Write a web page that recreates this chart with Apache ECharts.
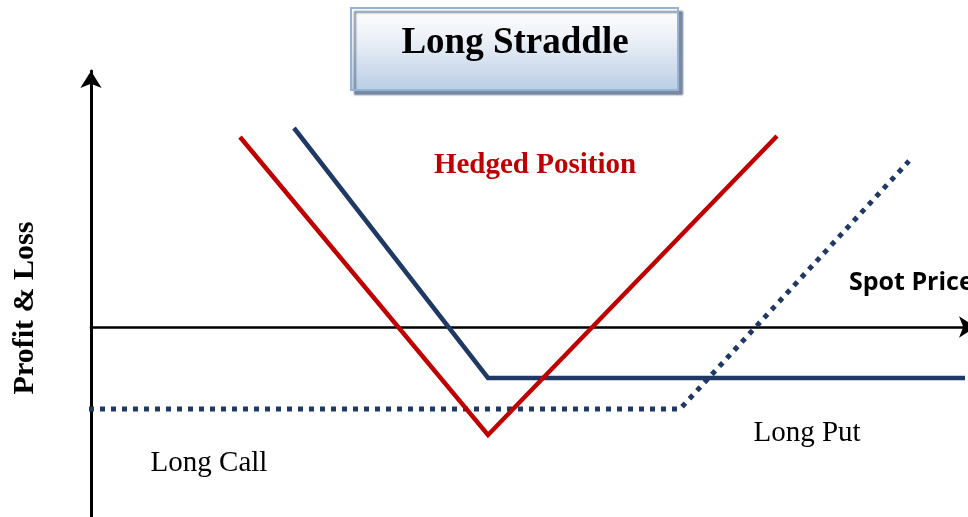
<!DOCTYPE html>
<html>
<head>
<meta charset="utf-8">
<title>Long Straddle</title>
<script src="https://cdn.jsdelivr.net/npm/echarts@6/dist/echarts.min.js"></script>
<style>
  html, body { margin: 0; padding: 0; background: #fff; }
  #chart { width: 968px; height: 517px; }
</style>
</head>
<body>
<div id="chart"></div>
<script>
// payoff lines, [spot price, profit & loss]
const hedgedPosition = [[14.9, 19.0], [39.7, -10.8], [68.6, 19.1]]
const longPut = [[20.3, 19.9], [39.7, -5.1], [87.4, -5.1]]
const longCall = [[-0.2, -8.2], [58.9, -8.2], [81.8, 16.6]]

const titleText = 'Long Straddle'
const xName = 'Spot Price'
const yName = 'Profit & Loss'
const labels = ['Hedged Position', 'Long Put', 'Long Call']

const chart = echarts.init(document.getElementById('chart'))

const serif = '"Liberation Serif", "DejaVu Serif", serif'

chart.setOption({
  animation: false,
  // x axis runs a bit past the right edge, arrow gets cut like in the source picture
  grid: {
    left: 91, top: 71, width: 885, height: 446,
    containLabel: false, outerBoundsMode: 'none'
  },
  xAxis: {
    type: 'value', min: 0, max: 88.5,
    axisLine: {
      onZero: true,
      symbol: ['none', 'arrow'],
      symbolSize: [16, 17],
      lineStyle: { color: '#000', width: 2.5 }
    },
    axisTick: { show: false },
    axisLabel: { show: false },
    splitLine: { show: false }
  },
  yAxis: {
    type: 'value', min: -19, max: 25.6,
    axisLine: {
      onZero: false,
      symbol: ['none', 'arrow'],
      symbolSize: [16, 17],
      lineStyle: { color: '#000', width: 3 }
    },
    axisTick: { show: false },
    axisLabel: { show: false },
    splitLine: { show: false }
  },
  series: [
    {
      name: labels[0], type: 'line', data: hedgedPosition,
      showSymbol: false, clip: false, z: 3,
      lineStyle: { color: '#c00000', width: 4.5, join: 'miter' }
    },
    {
      name: labels[1], type: 'line', data: longPut,
      showSymbol: false, clip: false, z: 2,
      lineStyle: { color: '#1f3864', width: 4.5, join: 'miter' }
    },
    {
      name: labels[2], type: 'line', data: longCall,
      showSymbol: false, clip: false, z: 2,
      lineStyle: { color: '#1f3864', width: 5, type: [5, 6], cap: 'butt' }
    }
  ],
  graphic: [
    // title box
    {
      type: 'rect', z: 10,
      shape: { x: 351, y: 8, width: 327, height: 82 },
      style: {
        fill: new echarts.graphic.LinearGradient(0, 0, 0, 1, [
          { offset: 0, color: '#ffffff' },
          { offset: 0.35, color: '#eef2f8' },
          { offset: 1, color: '#b9cde5' }
        ]),
        stroke: '#95b3d7', lineWidth: 2,
        shadowColor: 'rgba(80, 100, 130, 0.75)',
        shadowOffsetX: 4, shadowOffsetY: 4, shadowBlur: 2
      }
    },
    {
      type: 'text', z: 11, x: 515, y: 43,
      style: {
        text: titleText, font: 'bold 37px ' + serif, fill: '#000',
        textAlign: 'center', textVerticalAlign: 'middle'
      }
    },
    {
      type: 'text', z: 11, x: 535, y: 166,
      style: {
        text: labels[0], font: 'bold 29px ' + serif, fill: '#c00000',
        textAlign: 'center', textVerticalAlign: 'middle'
      }
    },
    {
      type: 'text', z: 11, x: 807, y: 433,
      style: {
        text: labels[1], font: '29px ' + serif, fill: '#000',
        textAlign: 'center', textVerticalAlign: 'middle'
      }
    },
    {
      type: 'text', z: 11, x: 209, y: 463,
      style: {
        text: labels[2], font: '29px ' + serif, fill: '#000',
        textAlign: 'center', textVerticalAlign: 'middle'
      }
    },
    {
      type: 'text', z: 11, x: 849, y: 283,
      style: {
        text: xName, font: 'bold 25px "Open Sans", sans-serif', fill: '#000',
        textAlign: 'left', textVerticalAlign: 'middle'
      }
    },
    {
      type: 'text', z: 11, x: 25, y: 308, rotation: Math.PI / 2,
      style: {
        text: yName, font: 'bold 30px ' + serif, fill: '#000',
        textAlign: 'center', textVerticalAlign: 'middle'
      }
    }
  ]
})
</script>
</body>
</html>
